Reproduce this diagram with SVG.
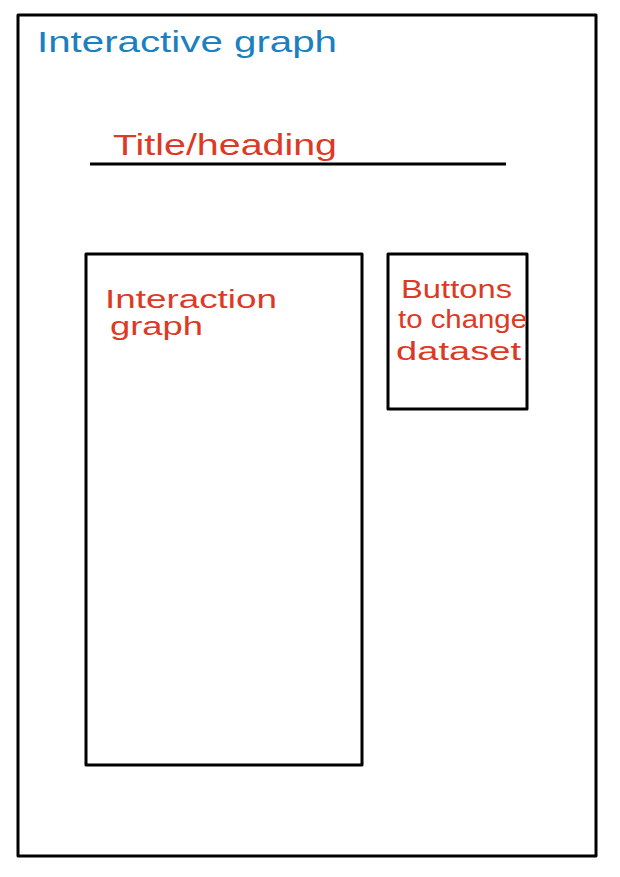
<svg xmlns="http://www.w3.org/2000/svg" width="620" height="877" viewBox="0 0 620 877">
<style>
.box{fill:none;stroke:#000;stroke-width:3;stroke-linejoin:round}
.blue{fill:#1a80c0;font-family:"Liberation Sans",Arial,sans-serif}
.red{fill:#dc3a25;font-family:"Liberation Sans",Arial,sans-serif}
</style>
<rect width="620" height="877" fill="#fff"/>
<g id="page">
<rect class="box" x="18" y="15" width="578" height="841"/>
<text class="blue" x="37" y="52" font-size="30" textLength="300" lengthAdjust="spacingAndGlyphs">Interactive graph</text>
</g>
<g id="heading">
<text class="red" x="113" y="155" font-size="30" textLength="224" lengthAdjust="spacingAndGlyphs">Title/heading</text>
<line x1="90" y1="164" x2="506" y2="164" stroke="#000" stroke-width="3"/>
</g>
<g id="graph">
<rect class="box" x="86" y="254" width="276" height="511"/>
<text class="red" x="105" y="308" font-size="25" textLength="172" lengthAdjust="spacingAndGlyphs">Interaction</text>
<text class="red" x="110" y="335" font-size="25" textLength="93" lengthAdjust="spacingAndGlyphs">graph</text>
</g>
<g id="buttons">
<rect class="box" x="388" y="254" width="139" height="155"/>
<text class="red" x="401" y="298" font-size="26" textLength="111" lengthAdjust="spacingAndGlyphs">Buttons</text>
<text class="red" x="398" y="328" font-size="26" textLength="129" lengthAdjust="spacingAndGlyphs">to change</text>
<text class="red" x="396" y="360" font-size="26" textLength="125" lengthAdjust="spacingAndGlyphs">dataset</text>
</g>
<g id="connectors"></g>
</svg>
